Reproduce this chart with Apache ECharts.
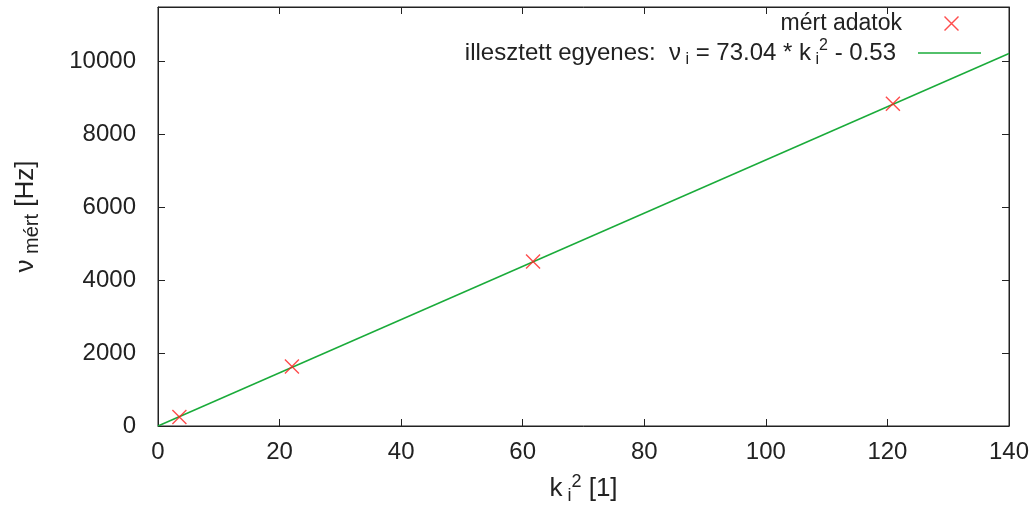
<!DOCTYPE html>
<html>
<head>
<meta charset="utf-8">
<script src="https://cdn.jsdelivr.net/npm/echarts@6/dist/echarts.min.js"></script>
<style>html,body{margin:0;padding:0;background:#fff}#c{width:1034px;height:510px}</style>
</head>
<body>
<div id="c"></div>
<script>
// measured data (k_i^2, measured frequency in Hz)
const kSquared = [3.52, 22.03, 61.70, 120.90];
const freqMeasured = [245, 1635, 4515, 8845];
// fitted line end points: nu = 73.04*k^2 - 0.53
const fitK2 = [0, 140];
const fitFreq = [-0.53, 10225];
// axis ticks
const xTicks = [0, 20, 40, 60, 80, 100, 120, 140];
const yTicks = [0, 2000, 4000, 6000, 8000, 10000];

const FONT = '"Liberation Sans", Arial, Helvetica, sans-serif';
const AX = '#222';
const RED = '#ff2020';
const GREEN = '#1aab3a';
const XPATH = 'path://M0,1L1,0L15,14L14,15Z M14,0L15,1L1,15L0,14Z';

const richBase = {
  b: { fontSize: 24, fontFamily: FONT, color: '#222' },
  sub: { fontSize: 16, fontFamily: FONT, color: '#222', verticalAlign: 'bottom' },
  sup: { fontSize: 16, fontFamily: FONT, color: '#222', verticalAlign: 'top' }
};

const chart = echarts.init(document.getElementById('c'));
const tickCommon = { show: true, inside: true, length: 7, lineStyle: { color: AX, width: 1 } };
const lineCommon = { show: true, onZero: false, lineStyle: { color: AX, width: 1 } };

chart.setOption({
  animation: false,
  backgroundColor: '#fff',
  grid: { left: 158, right: 25, top: 7, bottom: 80, show: true, borderColor: AX, borderWidth: 1 },
  xAxis: [{
    type: 'value', min: xTicks[0], max: xTicks[xTicks.length - 1], interval: 20,
    axisLine: lineCommon, axisTick: tickCommon, splitLine: { show: false },
    axisLabel: { fontSize: 24, fontFamily: FONT, color: '#222', margin: 14 },
    name: '{b|k}{sub| i}{sup|2}{b| [1]}', nameLocation: 'middle', nameGap: 47,
    nameTextStyle: { lineHeight: 32, rich: { b: { fontSize: 26, fontFamily: FONT, color: '#222' },
      sub: { fontSize: 18, fontFamily: FONT, color: '#222', verticalAlign: 'bottom' },
      sup: { fontSize: 18, fontFamily: FONT, color: '#222', verticalAlign: 'top' } } }
  }, {
    type: 'value', position: 'top', min: xTicks[0], max: xTicks[xTicks.length - 1], interval: 20,
    axisLine: lineCommon, axisTick: tickCommon, axisLabel: { show: false }, splitLine: { show: false }
  }],
  yAxis: [{
    type: 'value', min: yTicks[0], max: 11500, interval: 2000,
    axisLine: lineCommon, axisTick: tickCommon, splitLine: { show: false },
    axisLabel: { fontSize: 24, fontFamily: FONT, color: '#222', margin: 22, showMaxLabel: false,
      formatter: function (v) { return String(v); } },
    name: '{b|ν}{sub| mért}{b| [Hz]}', nameLocation: 'middle', nameGap: 116, nameRotate: 90,
    nameTextStyle: { lineHeight: 32, rich: { b: { fontSize: 26, fontFamily: FONT, color: '#222' },
      sub: { fontSize: 20, fontFamily: FONT, color: '#222', verticalAlign: 'bottom' } } }
  }, {
    type: 'value', position: 'right', min: yTicks[0], max: 11500, interval: 2000,
    axisLine: lineCommon, axisTick: tickCommon, axisLabel: { show: false }, splitLine: { show: false }
  }],
  legend: [{
    data: ['mért adatok'], right: 75, top: 12, align: 'right', padding: 0,
    itemWidth: 15, itemHeight: 15, icon: XPATH,
    textStyle: { fontSize: 23, fontFamily: FONT, color: '#222', padding: [0, 37, 0, 0] }
  }, {
    data: [{ name: 'illesztett egyenes', icon: 'rect' }], right: 53, top: 38, align: 'right', padding: 0,
    itemWidth: 63, itemHeight: 1.5,
    formatter: function () {
      return '{b|illesztett egyenes:  ν}{sub| i}{b| = 73.04 * k}{sub| i}{sup|2}{b| - 0.53}';
    },
    textStyle: { lineHeight: 30, padding: [0, 17, 0, 0], rich: richBase }
  }],
  series: [{
    name: 'illesztett egyenes', type: 'line', xAxisIndex: 0, yAxisIndex: 0,
    data: fitK2.map((x, i) => [x, fitFreq[i]]),
    showSymbol: false, symbol: 'none', clip: true,
    lineStyle: { color: GREEN, width: 1.5 }, itemStyle: { color: GREEN }
  }, {
    name: 'mért adatok', type: 'scatter', xAxisIndex: 0, yAxisIndex: 0,
    data: kSquared.map((x, i) => [x, freqMeasured[i]]),
    symbol: XPATH, symbolSize: 15, itemStyle: { color: RED }, z: 5
  }, {
    name: 'mirror', type: 'scatter', xAxisIndex: 1, yAxisIndex: 1, data: [], silent: true
  }]
});
</script>
</body>
</html>
